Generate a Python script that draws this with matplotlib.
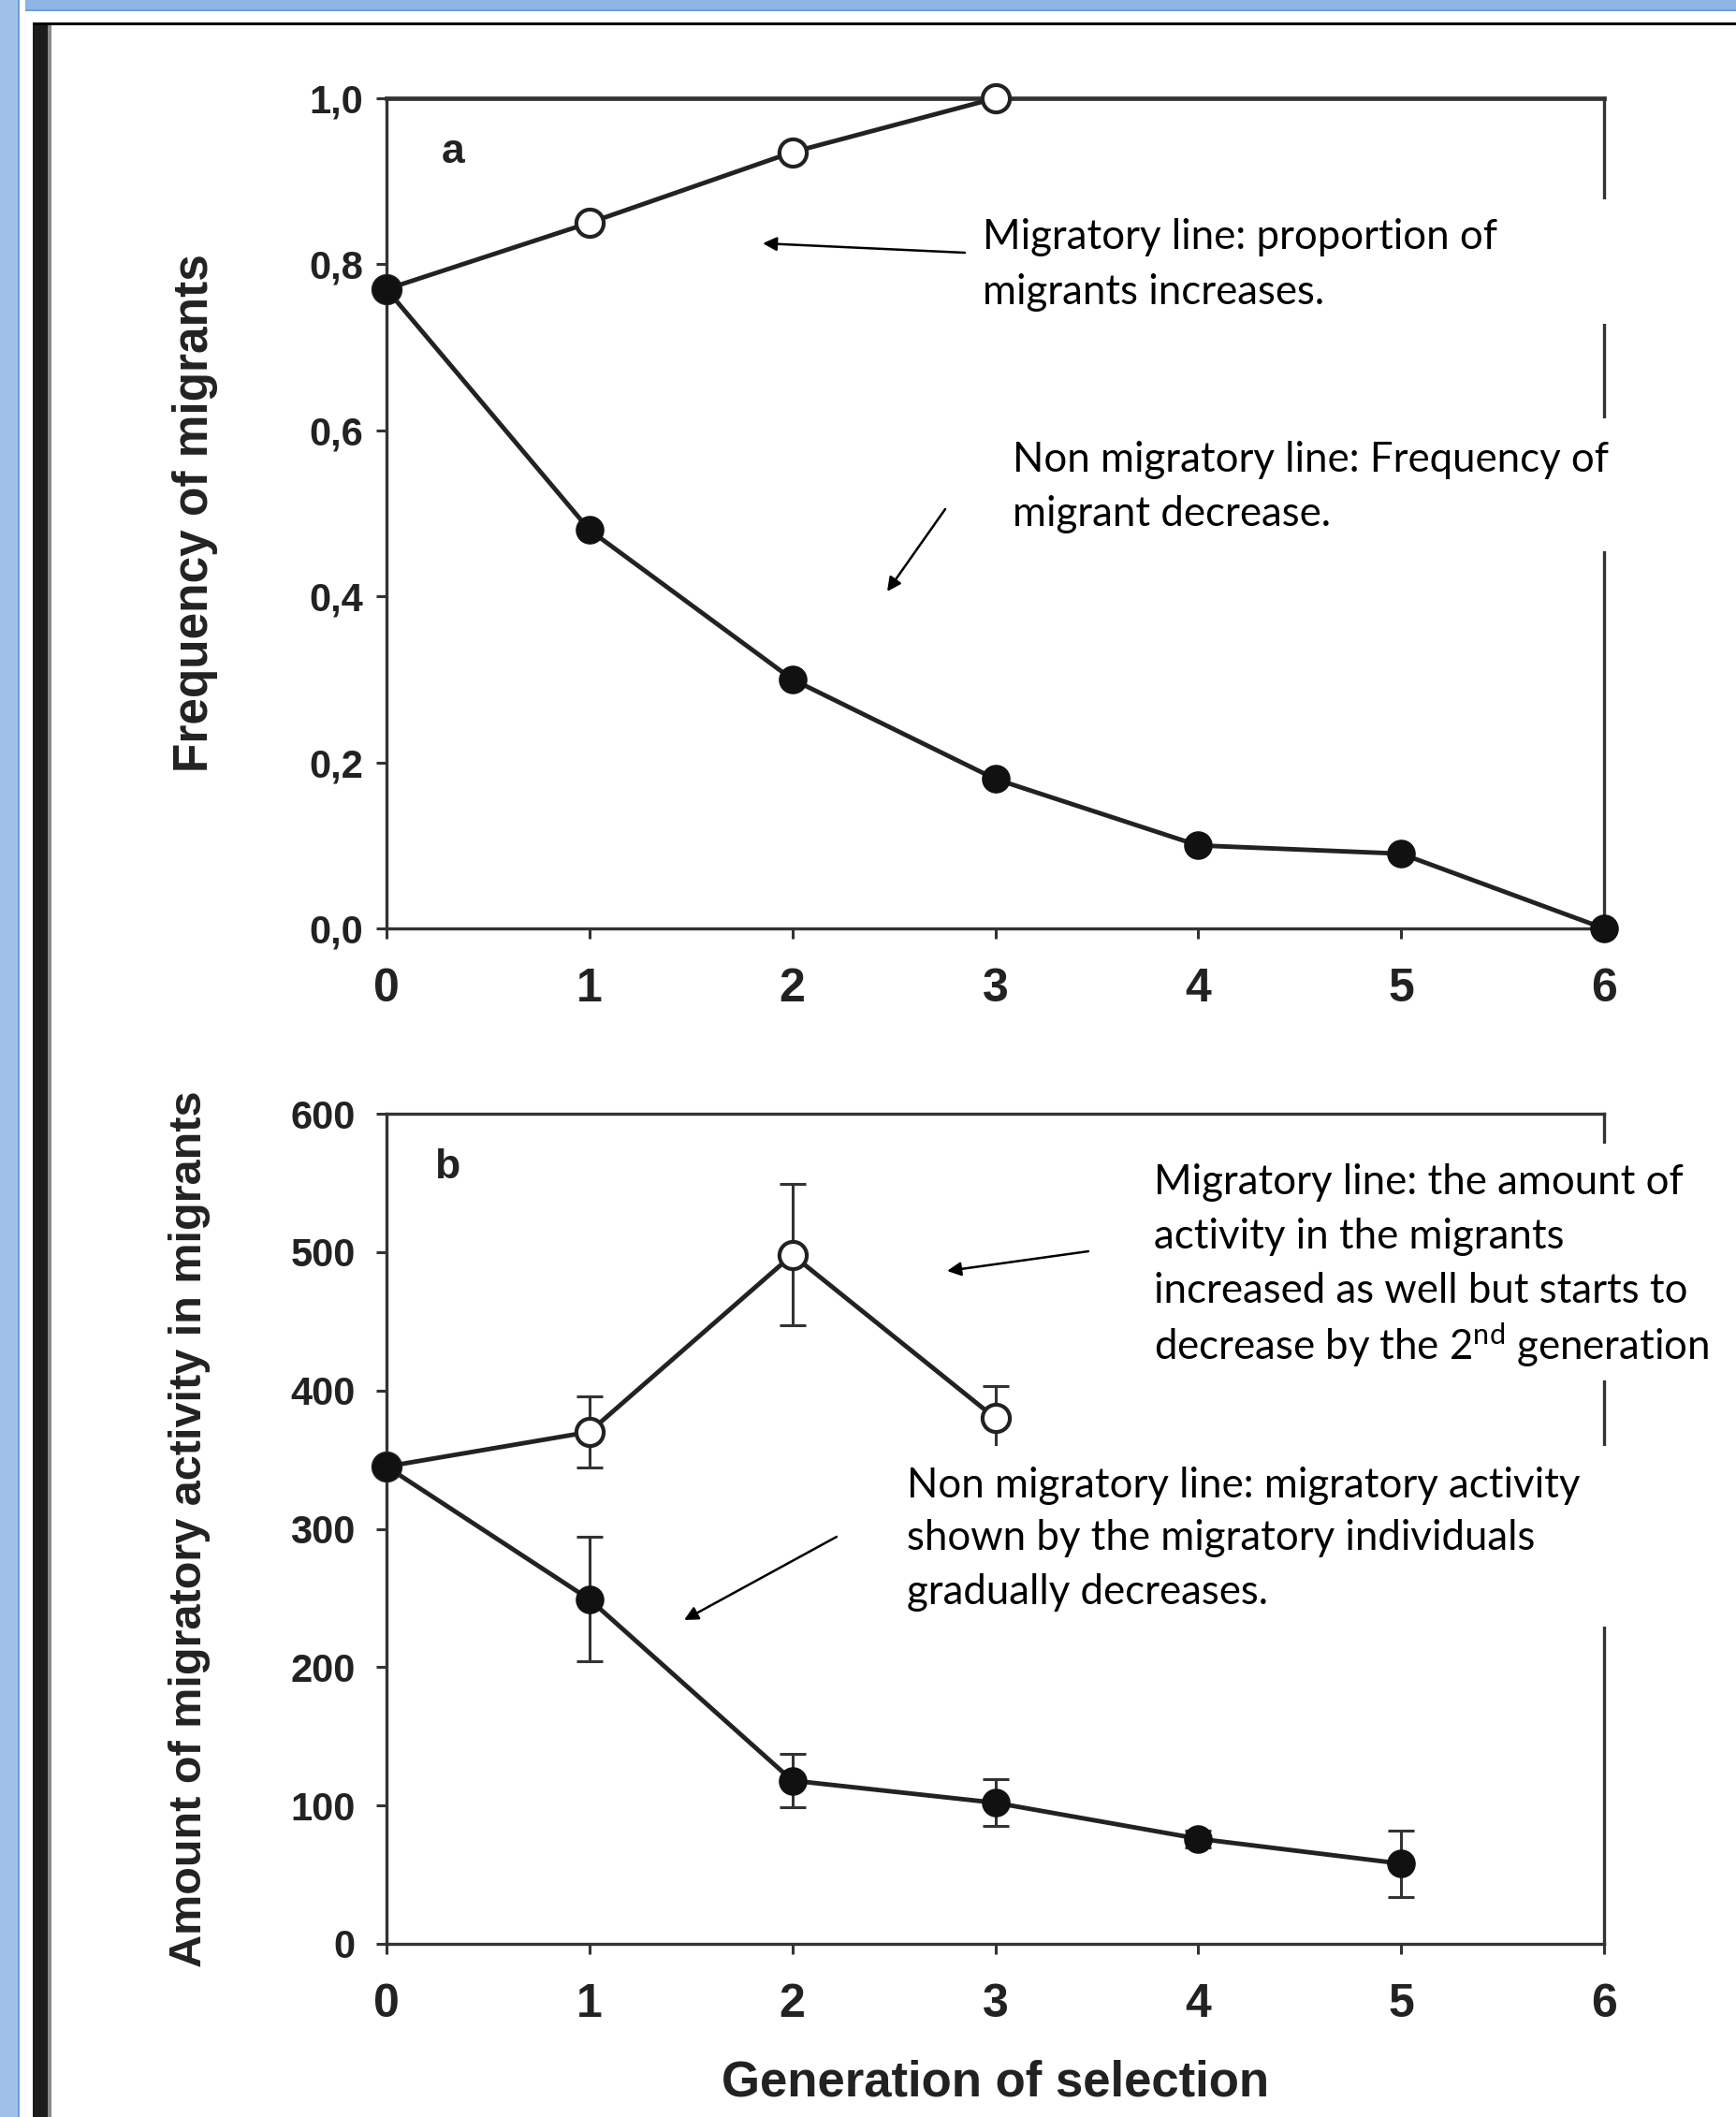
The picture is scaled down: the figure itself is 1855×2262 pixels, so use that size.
import numpy as np
import matplotlib.pyplot as plt
from matplotlib.patches import Rectangle, FancyArrowPatch

plt.rcParams['mathtext.fontset'] = 'custom'
plt.rcParams['mathtext.rm'] = 'Lato'

W, H = 1855, 2262

# panel a: frequency of migrants per generation
gen_mig_a = [0, 1, 2, 3]
freq_mig = [0.77, 0.85, 0.935, 1.0]
gen_non_a = [0, 1, 2, 3, 4, 5, 6]
freq_non = [0.77, 0.48, 0.30, 0.18, 0.10, 0.09, 0.0]

# panel b: amount of migratory activity in migrants (mean +- error)
gen_mig_b = [0, 1, 2, 3]
act_mig = [345, 370, 498, 380]
act_mig_err = [0, 26, 51, 23]
gen_non_b = [0, 1, 2, 3, 4, 5]
act_non = [345, 249, 118, 102, 76, 58]
act_non_err = [0, 45, 19, 17, 6, 24]

xticks = [0, 1, 2, 3, 4, 5, 6]
yticks_a = [0.0, 0.2, 0.4, 0.6, 0.8, 1.0]
yticklabels_a = ["0,0", "0,2", "0,4", "0,6", "0,8", "1,0"]
yticks_b = [0, 100, 200, 300, 400, 500, 600]

ink = '#222222'
scan_font = 'Liberation Sans'
note_font = 'Lato'


def fx(x):
    return x / W


def fy(y):
    return 1 - y / H


fig = plt.figure(figsize=(W / 100, H / 100), dpi=100)

# slide frame: blue bars and the dark edge of the scanned figure
fig.add_artist(Rectangle((0, 0), fx(19), 1, transform=fig.transFigure, color='#9fc0e8', lw=0))
fig.add_artist(Rectangle((fx(19), 0), fx(2), 1, transform=fig.transFigure, color='#6d9edb', lw=0))
fig.add_artist(Rectangle((fx(27), fy(11)), 1, 11 / H, transform=fig.transFigure, color='#8db4e2', lw=0))
fig.add_artist(Rectangle((fx(27), fy(12)), 1, 2 / H, transform=fig.transFigure, color='#6f9fd8', lw=0))
fig.add_artist(Rectangle((fx(35), fy(27)), 1, 3 / H, transform=fig.transFigure, color='black', lw=0))
fig.add_artist(Rectangle((fx(35), 0), fx(16), fy(27), transform=fig.transFigure, color='#1c1c1c', lw=0))
fig.add_artist(Rectangle((fx(51), 0), fx(4), fy(27), transform=fig.transFigure, color='#8a8a8a', lw=0))

ax_a = fig.add_axes([fx(413), fy(992), 1301 / W, 887 / H])
ax_b = fig.add_axes([fx(413), fy(2077), 1301 / W, 887 / H])

for ax in (ax_a, ax_b):
    ax.set_xlim(0, 6)
    ax.set_xticks(xticks)
    ax.set_xticklabels([str(t) for t in xticks], fontsize=36, fontweight='bold',
                       family=scan_font, color=ink)
    for s in ax.spines.values():
        s.set_color('#333333')
        s.set_linewidth(2.4)
    ax.tick_params(axis='x', direction='out', length=8, width=2.2, color='#333333', pad=22)
    ax.tick_params(axis='y', direction='out', length=8, width=2.2, color='#333333')

# panel a
ax_a.plot(gen_mig_a, freq_mig, color=ink, lw=3.5, marker='o', ms=21, mfc='white',
          mec=ink, mew=3, clip_on=False, zorder=3)
ax_a.plot(gen_non_a, freq_non, color=ink, lw=3.5, marker='o', ms=21, mfc='#111111',
          mec='#111111', clip_on=False, zorder=4)
ax_a.set_ylim(0, 1.0)
ax_a.set_yticks(yticks_a)
ax_a.set_yticklabels(yticklabels_a, fontsize=30, fontweight='bold', family=scan_font, color=ink)
ax_a.tick_params(axis='y', pad=10)
ax_a.spines['top'].set_linewidth(3.4)
ax_a.set_ylabel('Frequency of migrants', fontsize=37, fontweight='bold', family=scan_font,
                color=ink, va='center')
ax_a.yaxis.set_label_coords(-0.157, 0.5)
ax_a.text(0.055, 0.935, 'a', transform=ax_a.transAxes, fontsize=32, fontweight='bold',
          family=scan_font, color=ink, ha='center', va='center')

# panel b
ax_b.errorbar(gen_mig_b, act_mig, yerr=act_mig_err, fmt='none', ecolor='#333333',
              elinewidth=2.2, capsize=10, capthick=2.2, zorder=2, clip_on=False)
ax_b.errorbar(gen_non_b, act_non, yerr=act_non_err, fmt='none', ecolor='#333333',
              elinewidth=2.2, capsize=10, capthick=2.2, zorder=2, clip_on=False)
ax_b.plot(gen_mig_b, act_mig, color=ink, lw=3.5, marker='o', ms=21, mfc='white',
          mec=ink, mew=3, clip_on=False, zorder=3)
ax_b.plot(gen_non_b, act_non, color=ink, lw=3.5, marker='o', ms=21, mfc='#111111',
          mec='#111111', clip_on=False, zorder=4)
ax_b.set_ylim(0, 600)
ax_b.set_yticks(yticks_b)
ax_b.set_yticklabels([str(t) for t in yticks_b], fontsize=30, fontweight='bold',
                     family=scan_font, color=ink)
ax_b.tick_params(axis='y', pad=16)
ax_b.set_ylabel('Amount of migratory activity in migrants', fontsize=35, fontweight='bold',
                family=scan_font, color=ink, va='center')
ax_b.yaxis.set_label_coords(-0.162, 0.5)
ax_b.set_xlabel('Generation of selection', fontsize=38, fontweight='bold', family=scan_font,
                color=ink, labelpad=26)
ax_b.text(0.05, 0.935, 'b', transform=ax_b.transAxes, fontsize=32, fontweight='bold',
          family=scan_font, color=ink, ha='center', va='center')

# white note boxes pasted over the figure
boxes = [(1040, 213, 346), (1065, 447, 589), (1220, 1222, 1475), (955, 1545, 1738)]
for x0, y0, y1 in boxes:
    fig.add_artist(Rectangle((fx(x0), fy(y1)), 1, (y1 - y0) / H, transform=fig.transFigure,
                             color='white', lw=0, zorder=2))

notes = [
    (1050, [254, 312], ["Migratory line: proportion of", "migrants increases."]),
    (1082, [492, 550], ["Non migratory line: Frequency of", "migrant decrease."]),
    (1233, [1264, 1321, 1379, 1437], ["Migratory line: the amount of",
                                      "activity in the migrants",
                                      "increased as well but starts to",
                                      r"decrease by the 2$^{\mathrm{nd}}$ generation"]),
    (969, [1587, 1644, 1702], ["Non migratory line: migratory activity",
                               "shown by the migratory individuals",
                               "gradually decreases."]),
]
for x0, ys, lines in notes:
    for y, line in zip(ys, lines):
        fig.text(fx(x0), fy(y), line, fontsize=31.5, family=note_font, color='black',
                 ha='left', va='center', zorder=3)

arrows = [((1031, 270), (815, 260)), ((1010, 544), (948, 632)),
          ((1163, 1337), (1012, 1358)), ((894, 1642), (731, 1731))]
for (xa, ya), (xb, yb) in arrows:
    fig.add_artist(FancyArrowPatch((fx(xa), fy(ya)), (fx(xb), fy(yb)), transform=fig.transFigure,
                                   arrowstyle='-|>', mutation_scale=22, lw=1.8, color='black',
                                   shrinkA=0, shrinkB=0, zorder=4))

fig.savefig('out.png', dpi=100)
